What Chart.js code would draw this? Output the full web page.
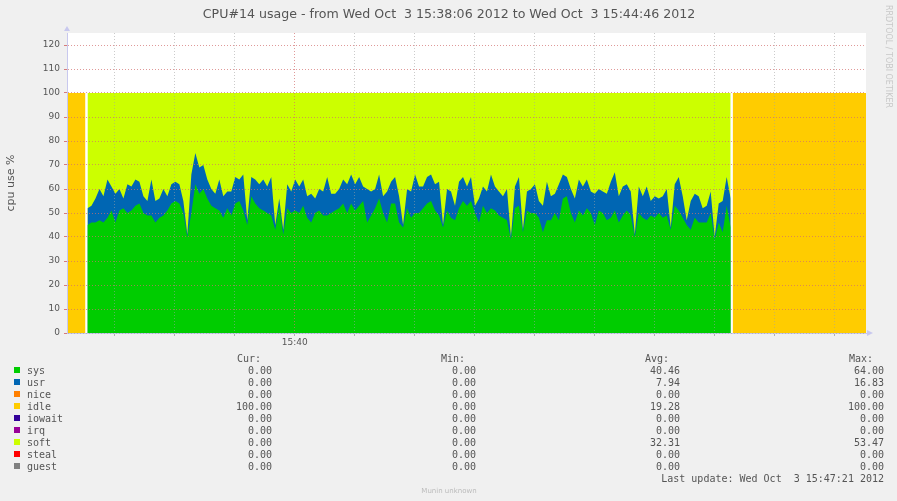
<!DOCTYPE html>
<html>
<head>
<meta charset="utf-8">
<title>CPU#14 usage</title>
<script src="https://cdn.jsdelivr.net/npm/chart.js@4.4.0/dist/chart.umd.min.js"></script>
<style>
    html, body { margin: 0; padding: 0; background: #f0f0f0; }
    #wrap { width: 897px; height: 501px; }
</style>
</head>
<body>
<div id="wrap"><canvas id="cpu" width="897" height="501"></canvas></div>
<script>
// seconds after 15:38:06, one sample every 2 s
const sampleStart = 10.25;
const sampleStep = 2;

// sys (green) per sample
const sys = [
    45, 46, 46, 47, 46, 48, 51, 46, 51, 52, 50, 51, 53, 54, 50, 49, 49, 46, 48, 49,
    51, 54, 55, 54, 50, 40, 50, 62, 58, 60, 56, 53, 52,
    51, 48, 52, 49, 54, 55, 51, 45, 57, 54, 52, 51, 50, 49, 43, 53, 41, 52, 50, 51,
    50, 53, 48, 46, 50, 51, 49, 49, 50, 51, 52, 54,
    50, 54, 51, 53, 55, 46, 49, 52, 56, 50, 46, 54, 54, 46, 44, 52, 48, 50, 50, 52,
    54, 55, 51, 49, 44, 51, 48, 47, 52, 55, 53, 55, 50,
    46, 53, 50, 52, 51, 49, 48, 47, 39, 52, 53, 42, 51, 50, 50, 48, 42, 47, 47, 50,
    47, 56, 57, 50, 46, 51, 49, 52, 50, 45, 51, 50,
    47, 48, 51, 46, 49, 51, 49, 40, 50, 48, 47, 49, 48, 50, 48, 49, 43, 53, 51, 48,
    45, 43, 48, 46, 46, 46, 50, 39, 46, 42, 53, 44
];

// usr (blue) per sample, stacked on sys
const usr = [
    7, 7, 10, 13, 11, 16, 10, 12, 9, 4, 12, 10, 11, 9, 7, 6, 15, 9, 8, 11,
    6, 8, 8, 8, 5, 1, 16, 13, 11, 10, 8, 7, 6,
    13, 9, 7, 10, 11, 9, 15, 2, 8, 10, 10, 13, 11, 16, 2, 3, 2, 10, 9, 13,
    11, 11, 9, 12, 6, 9, 10, 16, 8, 7, 8, 10,
    12, 12, 11, 12, 6, 14, 10, 8, 10, 7, 13, 9, 11, 11, 1, 8, 11, 16, 11, 9,
    11, 11, 11, 14, 1, 9, 11, 6, 11, 10, 8, 10, 3,
    10, 8, 9, 14, 10, 10, 9, 13, 1, 9, 12, 1, 8, 10, 12, 7, 11, 16, 10, 8,
    15, 10, 8, 10, 10, 13, 12, 12, 9, 13, 9, 9,
    11, 15, 16, 11, 12, 11, 10, 1, 11, 9, 14, 6, 9, 6, 9, 11, 1, 9, 14, 9,
    2, 12, 10, 11, 6, 7, 9, 1, 8, 13, 12, 12
];

// soft fills the rest up to this level while the host is busy
const softTop = 100;
// idle periods: [from, to] in seconds, and their level
const idleSpans = [[0, 9.25], [333.25, 400]];
const idleLevel = 100;

// axes
const xTickSec = [24, 54, 84, 114, 144, 174, 204, 234, 264, 294, 324, 354, 384];
const xTickLabels = ['', '', '', '15:40', '', '', '', '', '', '', '', '', ''];
const xMajorSec = 114;
const yTickLabels = ['0', '10', '20', '30', '40', '50', '60', '70', '80', '90', '100', '110', '120'];

// legend table
const seriesNames = ['sys', 'usr', 'nice', 'idle', 'iowait', 'irq', 'soft', 'steal', 'guest'];
const seriesColors = ['#00cc00', '#0066b3', '#ff8000', '#ffcc00', '#330099', '#990099', '#ccff00', '#ff0000', '#808080'];
const curVals = ['0.00', '0.00', '0.00', '100.00', '0.00', '0.00', '0.00', '0.00', '0.00'];
const minVals = ['0.00', '0.00', '0.00', '0.00', '0.00', '0.00', '0.00', '0.00', '0.00'];
const avgVals = ['40.46', '7.94', '0.00', '19.28', '0.00', '0.00', '32.31', '0.00', '0.00'];
const maxVals = ['64.00', '16.83', '0.00', '100.00', '0.00', '0.00', '53.47', '0.00', '0.00'];

const titleText = 'CPU#14 usage - from Wed Oct  3 15:38:06 2012 to Wed Oct  3 15:44:46 2012';
const lastUpdate = 'Last update: Wed Oct  3 15:47:21 2012';

const sec = sys.map((_, i) => sampleStart + i * sampleStep);
const sysPts = sys.map((v, i) => ({ x: sec[i], y: v }));
const usrPts = usr.map((v, i) => ({ x: sec[i], y: sys[i] + v }));
const softPts = sec.map(t => ({ x: t, y: softTop }));

const axisCol = '#c8c8ee';
const textCol = '#555555';
const mono = '"DejaVu Sans Mono", monospace';
const sans = '"DejaVu Sans", sans-serif';

const area = (label, data, color) => ({
    label, data,
    backgroundColor: color,
    borderColor: 'rgba(0,0,0,0)',
    borderWidth: 0,
    fill: 'origin',
    pointRadius: 0,
    tension: 0
});

const muninDecor = {
    id: 'muninDecor',
    beforeDraw(chart) {
        const { ctx, chartArea: a } = chart;
        ctx.save();
        ctx.fillStyle = '#f0f0f0';
        ctx.fillRect(0, 0, chart.width, chart.height);
        ctx.fillStyle = '#ffffff';
        ctx.fillRect(a.left, a.top, a.right - a.left, a.bottom - a.top);
        ctx.restore();
    },
    afterDraw(chart) {
        const { ctx, chartArea: a } = chart;
        ctx.save();

        // title
        ctx.fillStyle = textCol;
        ctx.font = '12.6px ' + sans;
        ctx.textAlign = 'center';
        ctx.textBaseline = 'alphabetic';
        ctx.fillText(titleText, 449, 18);

        // vertical axis title
        ctx.save();
        ctx.translate(14, (a.top + a.bottom) / 2);
        ctx.rotate(-Math.PI / 2);
        ctx.font = '11px ' + sans;
        ctx.fillText('cpu use %', 0, 0);
        ctx.restore();

        // rrdtool watermark
        ctx.save();
        ctx.translate(886, 5);
        ctx.rotate(Math.PI / 2);
        ctx.textAlign = 'left';
        ctx.fillStyle = '#c8c8c8';
        ctx.font = '8px ' + sans;
        ctx.fillText('RRDTOOL / TOBI OETIKER', 0, 0);
        ctx.restore();

        // axis arrows
        ctx.fillStyle = axisCol;
        ctx.beginPath();
        ctx.moveTo(a.left - 3, a.top - 2);
        ctx.lineTo(a.left + 3, a.top - 2);
        ctx.lineTo(a.left, a.top - 7);
        ctx.fill();
        ctx.beginPath();
        ctx.moveTo(a.right + 1, a.bottom - 3);
        ctx.lineTo(a.right + 1, a.bottom + 3);
        ctx.lineTo(a.right + 7, a.bottom);
        ctx.fill();

        // legend table
        ctx.font = '10px ' + mono;
        ctx.fillStyle = textCol;
        ctx.textAlign = 'left';
        const colRight = [272, 476, 680, 884];
        ['Cur:', 'Min:', 'Avg:', 'Max:'].forEach((h, c) => ctx.fillText(h, colRight[c] - 35, 362));
        seriesNames.forEach((name, r) => {
            const base = 374 + r * 12;
            ctx.fillStyle = seriesColors[r];
            ctx.fillRect(14, base - 7, 6, 6);
            ctx.fillStyle = textCol;
            ctx.textAlign = 'left';
            ctx.fillText(name, 27, base);
            ctx.textAlign = 'right';
            [curVals, minVals, avgVals, maxVals].forEach((col, c) => ctx.fillText(col[r], colRight[c], base));
        });
        ctx.textAlign = 'right';
        ctx.fillText(lastUpdate, 884, 482);

        ctx.textAlign = 'center';
        ctx.fillStyle = '#bbbbbb';
        ctx.font = '7px ' + sans;
        ctx.fillText('Munin unknown', 449, 493);

        ctx.restore();
    }
};

new Chart(document.getElementById('cpu'), {
    type: 'line',
    data: {
        datasets: [
            area('sys', sysPts, '#00cc00'),
            area('usr', usrPts, '#0066b3'),
            area('soft', softPts, '#ccff00'),
            ...idleSpans.map(s => area('idle', [{ x: s[0], y: idleLevel }, { x: s[1], y: idleLevel }], '#ffcc00'))
        ]
    },
    options: {
        responsive: false,
        animation: false,
        events: [],
        layout: { padding: { left: 0, right: 31, top: 33, bottom: 0 } },
        plugins: {
            legend: { display: false },
            tooltip: { enabled: false },
            title: { display: false }
        },
        scales: {
            x: {
                type: 'linear',
                min: 0,
                max: 400,
                afterFit: s => { s.height = 168; },
                afterBuildTicks: s => { s.ticks = xTickSec.map(v => ({ value: v })); },
                ticks: {
                    autoSkip: false,
                    maxRotation: 0,
                    padding: 1,
                    color: textCol,
                    font: { family: sans, size: 9 },
                    callback: (v, i) => xTickLabels[i]
                },
                grid: {
                    z: 1,
                    tickLength: 3,
                    color: c => c.tick && c.tick.value === xMajorSec ? 'rgba(210,110,110,0.7)' : 'rgba(160,160,160,0.55)',
                    tickColor: 'rgba(160,160,160,0.8)'
                },
                border: { z: 1, color: axisCol, dash: [1, 2] }
            },
            y: {
                min: 0,
                max: 125,
                afterFit: s => { s.width = 67; },
                ticks: {
                    stepSize: 5,
                    padding: 4,
                    color: textCol,
                    font: { family: sans, size: 9 },
                    callback: v => (v % 10 === 0 ? yTickLabels[v / 10] : '')
                },
                grid: {
                    z: 1,
                    tickLength: 3,
                    color: c => c.tick && c.tick.value % 10 === 0 && c.tick.value > 0 ? 'rgba(210,110,110,0.7)' : 'rgba(160,160,160,0.55)',
                    tickColor: c => c.tick && c.tick.value % 10 === 0 ? 'rgba(210,110,110,0.9)' : 'rgba(160,160,160,0.8)'
                },
                border: { z: 1, color: axisCol, dash: [1, 2] }
            }
        }
    },
    plugins: [muninDecor]
});
</script>
</body>
</html>
